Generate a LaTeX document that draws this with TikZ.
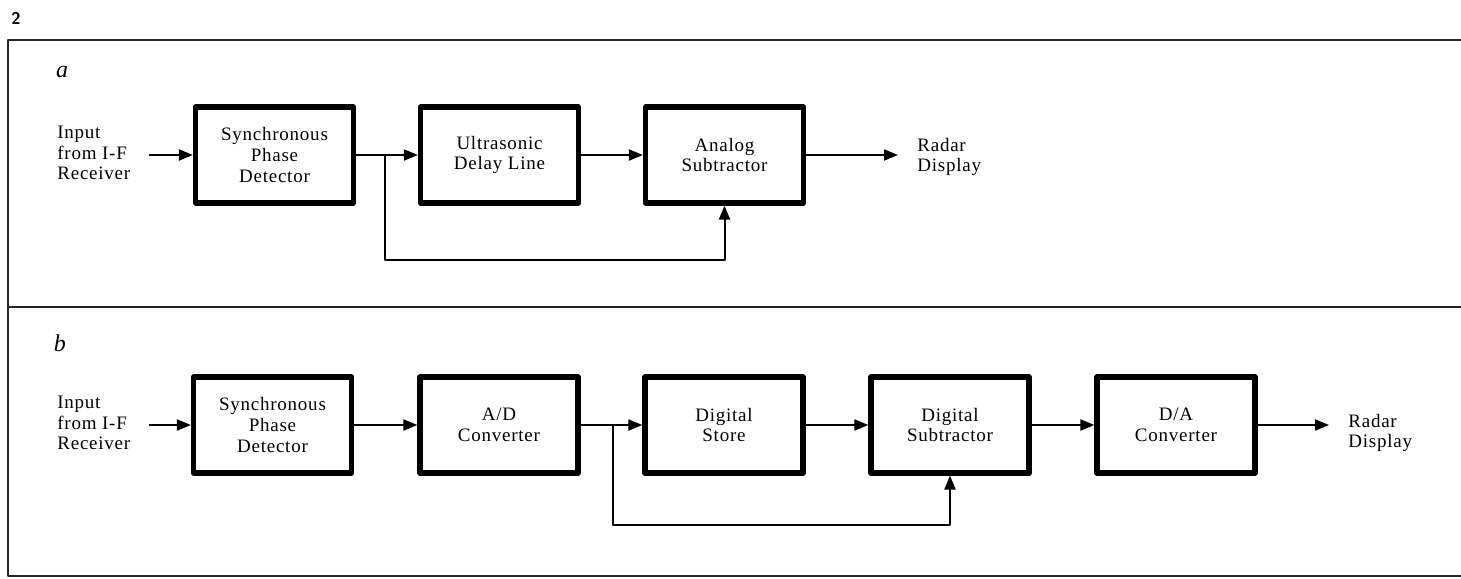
\documentclass[tikz,border=0pt]{standalone}
\usepackage{fontspec}
\setmainfont{Liberation Serif}[LetterSpace=4]
\usetikzlibrary{arrows.meta}

\begin{document}
\begin{tikzpicture}[x=0.5pt, y=-0.5pt, line cap=round, line join=round,
    blk/.style={draw, line width=2.6pt, minimum width=79pt, minimum height=48pt,
      align=center, inner sep=0pt, font=\fontsize{9.5}{10.4}\selectfont},
    txt/.style={anchor=west, align=left, inner sep=0pt, font=\fontsize{9.5}{10.4}\selectfont},
    wire/.style={line width=1pt, -{Triangle[length=7pt,width=5.5pt]}},
    frm/.style={line width=1.2pt, black!85}]
    \useasboundingbox (0,0) rectangle (1461,578);

    % --- frame ---
    \node[inner sep=0pt, font=\sffamily\bfseries\fontsize{8.5}{9}\selectfont] (fig) at (16,18) {2};
    \draw[frm] (1461,40) -- (8,40) -- (8,576) -- (1461,576);
    \draw[frm] (8,307) -- (1461,307);

    % --- panel a ---
    \begin{scope}
      \node[inner sep=0pt, font=\itshape\fontsize{12}{12}\selectfont] (la) at (62,72) {a};
      \node[txt] (ina) at (57,153) {Input\\from I-F\\Receiver};
      \node[blk] (spda) at (274.5,155) {Synchronous\\Phase\\Detector};
      \node[blk] (dly) at (499.5,155) {Ultrasonic\\Delay Line};
      \node[blk] (anl) at (724.5,155) {Analog\\Subtractor};
      \node[txt] (outa) at (917,157) {Radar\\Display};

      \draw[wire, shorten <=9.5pt] (ina.east |- spda.west) -- (spda.west);
      \draw[wire] (spda) -- (dly);
      \draw[wire] (dly) -- (anl);
      \draw[wire, shorten >=9.5pt] (anl.east) -- (outa.west |- anl.east);
      % feed-forward path
      \coordinate (ja) at (385,155);
      \draw[wire] (ja) -- ++(0,105) -| (anl.south);
    \end{scope}

    % --- panel b ---
    \begin{scope}
      \node[inner sep=0pt, font=\itshape\fontsize{12}{12}\selectfont] (lb) at (60,343) {b};
      \node[txt] (inb) at (57,423) {Input\\from I-F\\Receiver};
      \foreach \n/\x/\t in {spdb/272.5/{Synchronous\\Phase\\Detector},
                            adc/499/{A/D\\Converter},
                            sto/724/{Digital\\Store},
                            sub/950/{Digital\\Subtractor},
                            dac/1176/{D/A\\Converter}}{
        \node[blk] (\n) at (\x,425) {\t};
      }
      \node[txt] (outb) at (1348,433) {Radar\\Display};

      \draw[wire, shorten <=9.5pt] (inb.east |- spdb.west) -- (spdb.west);
      \foreach \a/\b in {spdb/adc, adc/sto, sto/sub, sub/dac}{
        \draw[wire] (\a) -- (\b);
      }
      \draw[wire, shorten >=9.5pt] (dac.east) -- (outb.west |- dac.east);
      % feed-forward path
      \coordinate (jb) at (613,425);
      \draw[wire] (jb) -- ++(0,100) -| (sub.south);
    \end{scope}
  \end{tikzpicture}
\end{document}
